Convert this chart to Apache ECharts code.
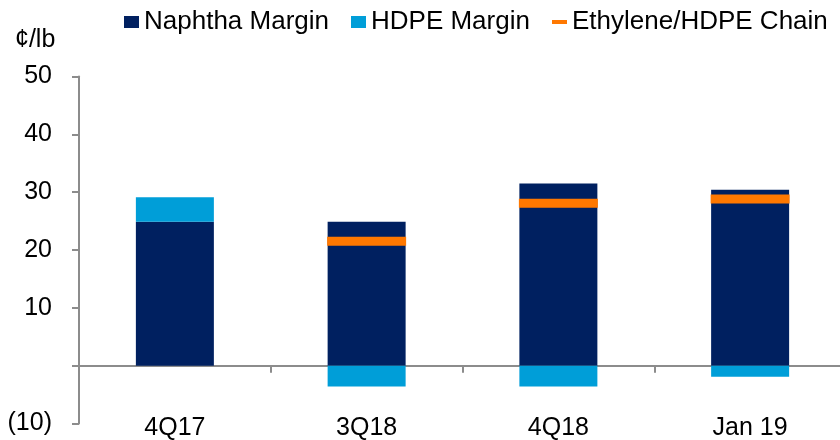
<!DOCTYPE html>
<html>
<head>
<meta charset="utf-8">
<script src="https://cdn.jsdelivr.net/npm/echarts@6/dist/echarts.min.js"></script>
<style>
html,body{margin:0;padding:0;background:#fff;}
#chart{width:840px;height:440px;}
</style>
</head>
<body>
<div id="chart"></div>
<script>
var categories = ['4Q17', '3Q18', '4Q18', 'Jan 19'];
var naphthaMargin = [24.9, 24.9, 31.5, 30.4];
var hdpeMargin = [4.2, -3.6, -3.6, -1.9];
var ethyleneHdpeChain = [null, 21.5, 28.1, 28.8];
var yTicks = { min: -10, max: 50, interval: 10 };
var unitLabel = '¢/lb';

var FONT = '"Liberation Sans", Arial, sans-serif';
var NAVY = '#002060';
var CYAN = '#009ED8';
var ORANGE = '#FF7800';
var AXIS = '#8c8c8c';

var chart = echarts.init(document.getElementById('chart'), null, { renderer: 'canvas' });

var legendText = { fontFamily: FONT, fontSize: 26, color: '#000' };

chart.setOption({
  animation: false,
  backgroundColor: '#fff',
  title: {
    text: unitLabel,
    left: 15,
    top: 28,
    padding: 0,
    textStyle: { fontFamily: FONT, fontSize: 25, fontWeight: 'normal', color: '#000' }
  },
  legend: [
    {
      data: ['Naphtha Margin'],
      left: 124, top: 9, padding: 0,
      itemWidth: 15, itemHeight: 12, icon: 'rect',
      selectedMode: false,
      textStyle: legendText
    },
    {
      data: ['HDPE Margin'],
      left: 351, top: 9, padding: 0,
      itemWidth: 15, itemHeight: 12, icon: 'rect',
      selectedMode: false,
      textStyle: legendText
    },
    {
      data: ['Ethylene/HDPE Chain'],
      left: 552, top: 9, padding: 0,
      itemWidth: 15, itemHeight: 4, icon: 'rect',
      selectedMode: false,
      textStyle: legendText
    }
  ],
  grid: { left: 79, right: -6, top: 76.5, bottom: 16.5, containLabel: false, outerBoundsMode: 'none' },
  xAxis: [
    {
      type: 'category',
      data: categories,
      axisLine: { onZero: true, lineStyle: { color: AXIS, width: 2 } },
      axisTick: { show: true, length: 7, lineStyle: { color: AXIS, width: 2 } },
      axisLabel: { show: false },
      splitLine: { show: false }
    },
    {
      type: 'category',
      data: categories,
      position: 'bottom',
      axisLine: { show: false, onZero: false },
      axisTick: { show: false },
      axisLabel: { margin: -8, fontFamily: FONT, fontSize: 25, color: '#000', hideOverlap: false },
      splitLine: { show: false }
    }
  ],
  yAxis: {
    type: 'value',
    min: yTicks.min,
    max: yTicks.max,
    interval: yTicks.interval,
    axisLine: { show: true, onZero: false, lineStyle: { color: AXIS, width: 2 } },
    axisTick: { show: true, length: 7, lineStyle: { color: AXIS, width: 2 } },
    splitLine: { show: false },
    axisLabel: {
      margin: 27,
      fontFamily: FONT, fontSize: 25, color: '#000',
      formatter: function (v) {
        if (v === 0) return '';
        if (v < 0) return '(' + Math.abs(v) + ')';
        return String(v);
      }
    }
  },
  series: [
    {
      name: 'Naphtha Margin',
      type: 'bar',
      stack: 'margin',
      barWidth: 78,
      itemStyle: { color: NAVY },
      data: naphthaMargin,
      z: 2
    },
    {
      name: 'HDPE Margin',
      type: 'bar',
      stack: 'margin',
      barWidth: 78,
      itemStyle: { color: CYAN },
      data: hdpeMargin,
      z: 2
    },
    {
      name: 'Ethylene/HDPE Chain',
      type: 'scatter',
      symbol: 'rect',
      symbolSize: [79, 9],
      itemStyle: { color: ORANGE, opacity: 1 },
      data: ethyleneHdpeChain,
      z: 5
    }
  ]
});
</script>
</body>
</html>
